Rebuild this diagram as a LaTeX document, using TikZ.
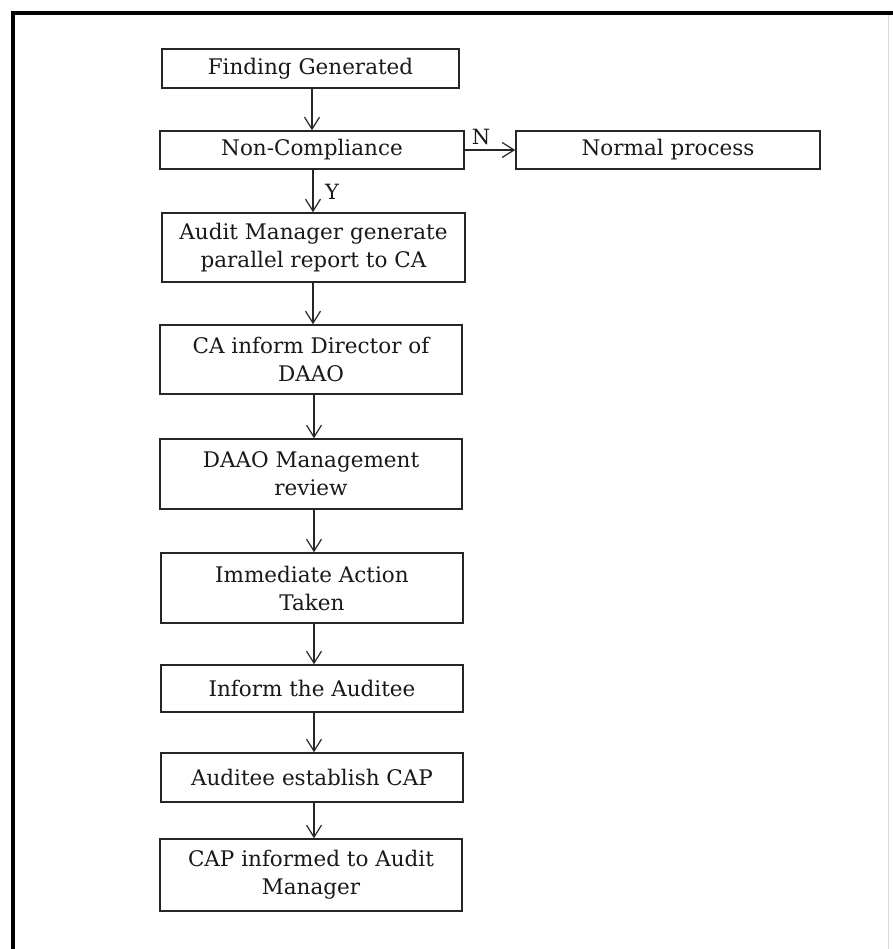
\documentclass[tikz,border=0pt]{standalone}
\usepackage{fontspec}
\setmainfont{DejaVu Serif}
\usetikzlibrary{arrows.meta}
\begin{document}
\begin{tikzpicture}[x=1pt,y=-1pt,
  flowbox/.style={draw=black!85, line width=1.5pt, inner sep=0pt, align=center,
    font=\fontsize{21.5}{28}\selectfont, text=black!90},
  flowarrow/.style={draw=black!85, line width=1.2pt, -{Straight Barb[length=12pt,width=15pt,line width=1.2pt]}},
  lbl/.style={font=\fontsize{21}{22}\selectfont, inner sep=0pt, text=black!90}]
\useasboundingbox (0,0) rectangle (892,949);
\fill[white] (0,0) rectangle (892,949);
% outer frame
\coordinate (ftl) at (13,13);
\coordinate (ftr) at (892,13);
\coordinate (fbl) at (13,949);
\draw[line width=4.5pt, line cap=rect] (ftr) -- (ftl) -- (fbl);
\draw[black!15, line width=0.8pt] (888,15) -- (888,949);
% boxes
\node[flowbox, minimum width=297pt, minimum height=39pt] (fg) at (310.5,68.5) {Finding Generated};
\node[flowbox, minimum width=304pt, minimum height=38pt] (nc) at (312,150) {Non-Compliance};
\node[flowbox, minimum width=304pt, minimum height=38pt] (np) at (668,150) {Normal process};
\node[flowbox, minimum width=303pt, minimum height=69pt] (am) at (313.5,247.5) {Audit Manager generate\\parallel report to CA};
\node[flowbox, minimum width=302pt, minimum height=69pt] (ca) at (311,359.5) {CA inform Director of\\DAAO};
\node[flowbox, minimum width=302pt, minimum height=70pt] (dm) at (311,474) {DAAO Management\\review};
\node[flowbox, minimum width=302pt, minimum height=70pt] (ia) at (312,588) {Immediate Action\\Taken};
\node[flowbox, minimum width=302pt, minimum height=47pt] (ita) at (312,688.5) {Inform the Auditee};
\node[flowbox, minimum width=302pt, minimum height=49pt] (ae) at (312,777.5) {Auditee establish CAP};
\node[flowbox, minimum width=302pt, minimum height=72pt] (cap) at (311,875) {CAP informed to Audit\\Manager};
% connectors
\draw[flowarrow] (fg.south -| 312,0) -- (nc.north -| 312,0);
\draw[flowarrow] (nc.south -| 313,0) -- (am.north -| 313,0);
\draw[flowarrow] (am.south -| 313,0) -- (ca.north -| 313,0);
\draw[flowarrow] (ca.south -| 314,0) -- (dm.north -| 314,0);
\draw[flowarrow] (dm.south -| 314,0) -- (ia.north -| 314,0);
\draw[flowarrow] (ia.south -| 314,0) -- (ita.north -| 314,0);
\draw[flowarrow] (ita.south -| 314,0) -- (ae.north -| 314,0);
\draw[flowarrow] (ae.south -| 314,0) -- (cap.north -| 314,0);
\draw[flowarrow] (nc.east) -- (np.west);
% labels
\node[lbl] (ylbl) at (332,192) {Y};
\node[lbl] (nlbl) at (481,137) {N};
\end{tikzpicture}
\end{document}
